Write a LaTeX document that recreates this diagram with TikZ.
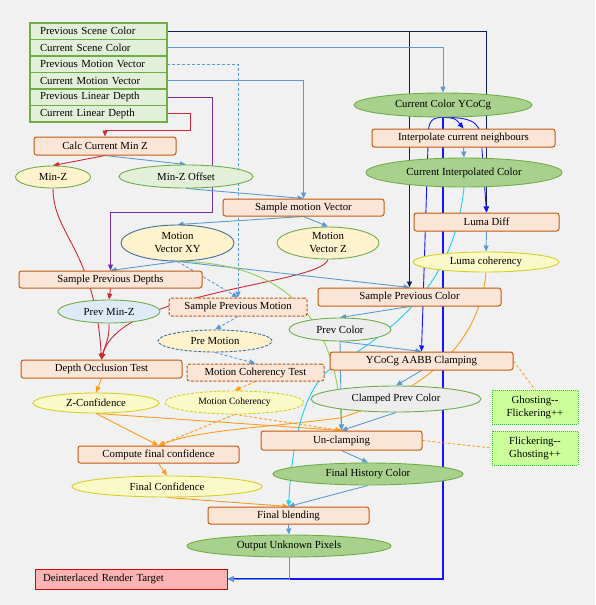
\documentclass[tikz,border=0pt]{standalone}
\usepackage{fontspec}
\setmainfont{Liberation Serif}
\usetikzlibrary{arrows.meta, positioning, shapes.geometric, backgrounds}
\definecolor{pagebg}{HTML}{F1F1F1}
\definecolor{tablefill}{HTML}{E2F0D9}
\definecolor{tableline}{HTML}{70AD47}
\definecolor{stagefill}{HTML}{FBE5D6}
\definecolor{stageline}{HTML}{C55A11}
\definecolor{ellgreen}{HTML}{A9D18E}
\definecolor{ellmint}{HTML}{E2F0D9}
\definecolor{ellpale}{HTML}{FFF2CC}
\definecolor{ellblue}{HTML}{DEEBF7}
\definecolor{ellgrey}{HTML}{EDEDED}
\definecolor{datumline}{HTML}{70AD47}
\definecolor{datumblue}{HTML}{41719C}
\definecolor{scorefill}{HTML}{FAFAC8}
\definecolor{scoreline}{HTML}{D6CF2A}
\definecolor{notefill}{HTML}{CCFF99}
\definecolor{notegreen}{HTML}{33CC33}
\definecolor{targetfill}{HTML}{FAB4B4}
\definecolor{targetred}{HTML}{D90000}
\definecolor{lblue}{HTML}{5B9BD5}
\definecolor{navyline}{HTML}{0B1F5C}
\definecolor{vblue}{HTML}{1414FF}
\definecolor{redline}{HTML}{CC2A36}
\definecolor{purpline}{HTML}{7030A0}
\definecolor{orng}{HTML}{FF9C1A}
\definecolor{cyanline}{HTML}{1BD0F0}
\definecolor{greenline}{HTML}{92D050}

\begin{document}
\begin{tikzpicture}[x=1pt, y=-1pt,
    font=\fontsize{10.8}{13}\selectfont,
    inrow/.style={rectangle, draw=tableline, fill=tablefill, line width=1.2pt,
                  text width=117pt, inner xsep=10pt, inner ysep=0pt,
                  minimum height=16.5pt, outer sep=0pt, align=left},
    stage/.style={rectangle, rounded corners=2.5pt, draw=stageline,
                  fill=stagefill, line width=1pt, inner sep=0pt,
                  minimum height=18pt},
    maybestage/.style={stage, dash pattern=on 3pt off 1.5pt},
    datum/.style={ellipse, draw=datumline, line width=0.9pt, inner sep=0pt,
                  align=center},
    score/.style={datum, draw=scoreline, fill=scorefill},
    note/.style={rectangle, draw=notegreen, fill=notefill, densely dotted,
                 line width=1pt, minimum width=86pt, minimum height=34pt,
                 inner sep=0pt, align=center},
    target/.style={rectangle, draw=targetred, fill=targetfill, line width=1pt,
                   text width=176pt, inner xsep=8pt, inner ysep=0pt,
                   minimum height=20pt, align=left},
    arr/.style={-{Triangle[length=6pt, width=5pt]}, line width=0.9pt},
    darr/.style={arr, dash pattern=on 3pt off 2pt},
    dline/.style={line width=0.8pt, dash pattern=on 3pt off 2pt}
  ]
  \useasboundingbox (0,0) rectangle (595,605);

  % input buffers
  \node[inrow] (psc) at (98.5,31.25) {Previous Scene Color};
  \node[inrow, below=0pt of psc] (csc) {Current Scene Color};
  \node[inrow, below=0pt of csc] (pmv) {Previous Motion Vector};
  \node[inrow, below=0pt of pmv] (cmv) {Current Motion Vector};
  \node[inrow, below=0pt of cmv] (pld) {Previous Linear Depth};
  \node[inrow, below=0pt of pld] (cld) {Current Linear Depth};
  \coordinate (pldbend) at (212,212);
  \coordinate (cldbend) at (190,130);

  % passes
  \node[stage, minimum width=142pt] (ccmz) at (105,146) {Calc Current Min Z};
  \node[stage, minimum width=183pt] (icn) at (463.5,138) {Interpolate current neighbours};
  \node[stage, minimum width=161pt, minimum height=17pt] (smv) at (303.5,207.5) {Sample motion Vector};
  \node[stage, minimum width=145pt] (lumadiff) at (486.5,222) {Luma Diff};
  \node[stage, minimum width=183pt, minimum height=17pt] (spd) at (110.5,279.5) {Sample Previous Depths};
  \node[stage, minimum width=183pt] (spc) at (409.5,297) {Sample Previous Color};
  \node[maybestage, minimum width=138pt] (spm) at (238,307) {Sample Previous Motion};
  \node[stage, minimum width=161pt] (dot) at (101.5,369) {Depth Occlusion Test};
  \node[maybestage, minimum width=137pt, minimum height=17pt] (mct) at (255.5,372.5) {Motion Coherency Test};
  \node[stage, minimum width=183pt] (aabb) at (421.5,361) {YCoCg AABB Clamping};
  \node[stage, minimum width=161pt, minimum height=19pt] (uncl) at (341.5,440.5) {Un-clamping};
  \node[stage, minimum width=161pt, minimum height=17pt] (cfc) at (158.5,454.5) {Compute final confidence};
  \node[stage, minimum width=161pt, minimum height=17pt] (fblend) at (288.5,515.5) {Final blending};

  % intermediate data
  \node[datum, fill=ellgreen, minimum width=178pt, minimum height=24pt] (ccy) at (443,105) {Current Color YCoCg};
  \node[datum, fill=ellgreen, minimum width=196pt, minimum height=29pt] (cic) at (464,172.5) {Current Interpolated Color};
  \node[datum, fill=ellpale, minimum width=75pt, minimum height=22pt] (minz) at (53,177) {Min-Z};
  \node[datum, fill=ellmint, minimum width=134pt, minimum height=23pt] (minzoff) at (186,176.5) {Min-Z Offset};
  \node[datum, fill=ellpale, draw=datumblue, minimum width=113pt, minimum height=36pt] (mvxy) at (177.5,243) {Motion\\Vector XY};
  \node[datum, fill=ellpale, minimum width=102pt, minimum height=32pt] (mvz) at (328,243) {Motion\\Vector Z};
  \node[score, minimum width=146pt, minimum height=20pt] (lumacoh) at (486,262) {Luma coherency};
  \node[datum, fill=ellblue, minimum width=102pt, minimum height=23pt] (pminz) at (109,311.5) {Prev Min-Z};
  \node[datum, fill=ellgrey, minimum width=102pt, minimum height=23pt] (pcol) at (340,329.5) {Prev Color};
  \node[datum, fill=ellpale, draw=datumblue, dash pattern=on 3pt off 1.5pt, minimum width=114pt, minimum height=22pt] (premo) at (215,341) {Pre Motion};
  \node[score, minimum width=126pt, minimum height=20pt] (zconf) at (96,403) {Z-Confidence};
  \node[score, dash pattern=on 3pt off 1.5pt, font=\fontsize{9.6}{11}\selectfont, minimum width=139pt, minimum height=23pt] (mcoh) at (234.5,402.5) {Motion Coherency};
  \node[datum, fill=ellgrey, minimum width=170pt, minimum height=26pt] (cpc) at (396,399) {Clamped Prev Color};
  \node[datum, fill=ellgreen, minimum width=190pt, minimum height=22pt] (fhc) at (368,474) {Final History Color};
  \node[score, minimum width=190pt, minimum height=21pt] (fconf) at (167,486.5) {Final Confidence};
  \node[datum, fill=ellgreen, minimum width=204pt, minimum height=22pt] (oup) at (289,546) {Output Unknown Pixels};

  % trade-off notes and output
  \node[note] (ghost1) at (535,407) {Ghosting-{}-\\Flickering++};
  \node[note] (ghost2) at (535,448) {Flickering-{}-\\Ghosting++};
  \node[target] (drt) at (131,579) {Deinterlaced Render Target};

  \begin{scope}[on background layer]
    \fill[pagebg] (0,0) rectangle (595,605);
    % from the inputs
    \draw[arr, navyline] (psc.east) -| (spc.north);
    \draw[arr, navyline] (psc.east) -| (lumadiff.north);
    \draw[arr, lblue] (csc.east) -| (ccy.north);
    \draw[darr, lblue] (pmv.east) -| (spm.north);
    \draw[arr, lblue] (cmv.east) -| (smv.north);
    \draw[arr, purpline] (pld.east) -| (pldbend) -| (spd.north);
    \draw[arr, redline] (cld.east) -| (cldbend) -| (ccmz.north);
    % depth and motion
    \draw[arr, redline] (ccmz.south) -- (minz.north);
    \draw[arr, lblue] (ccmz.south) -- (minzoff.north);
    \draw[arr, lblue] (minzoff.south) -- (smv.north);
    \draw[arr, lblue] (smv.south) -- (mvxy.north);
    \draw[arr, lblue] (smv.south) -- (mvz.north);
    \draw[arr, redline] (minz.south) .. controls (53,235) and (95,250) .. (dot.north);
    \draw[arr, redline] (mvz.south) .. controls (320,285) and (120,290) .. (dot.north);
    \draw[arr, redline] (spd.south) -- (pminz.north);
    \draw[arr, redline] (pminz.south) .. controls (110,338) and (104,348) .. (dot.north);
    \draw[arr, lblue] (mvxy.south) -- (spd.north);
    \draw[darr, lblue] (mvxy.south) -- (spm.north);
    \draw[arr, lblue] (mvxy.south) -- (spc.north);
    \draw[arr, greenline] (mvxy.south) .. controls (295,262) and (338,330) .. (uncl.north);
    \draw[darr, lblue] (spm.south) -- (premo.north);
    \draw[darr, lblue] (premo.south) -- (mct.north);
    \draw[darr, orng] (mct.south) -- (mcoh.north);
    % confidence
    \draw[arr, orng] (dot.south) -- (zconf.north);
    \draw[arr, orng] (zconf.south) -- (cfc.north);
    \draw[arr, orng] (zconf.south) -- (uncl.north);
    \draw[darr, orng] (mcoh.south) -- (cfc.north);
    \draw[darr, orng] (mcoh.south) -- (uncl.north);
    \draw[arr, orng] (cfc.south) -- (fconf.north);
    \draw[arr, orng] (fconf.south) -- (fblend.north);
    % colour
    \draw[arr, vblue] (ccy.south) .. controls (455,118) .. (icn.north);
    \draw[arr, lblue] (icn.south) -- (cic.north);
    \draw[arr, vblue] (ccy.south) .. controls (428,117) and (428,125) .. (428,145) -- (aabb.north);
    \draw[arr, vblue] (ccy.south) .. controls (478,117) and (482,125) .. (482,150) -- (lumadiff.north);
    \draw[arr, vblue, line width=1.2pt] (ccy.south) |- (drt.east);
    \draw[arr, lblue] (lumadiff.south) -- (lumacoh.north);
    \draw[arr, orng] (lumacoh.south) .. controls (480,340) and (430,390) .. (340,418)
      .. controls (260,428) and (200,430) .. (cfc.north);
    \draw[arr, cyanline] (cic.south) .. controls (455,274) and (408,323) .. (333,367)
      .. controls (305,385) and (292,440) .. (fblend.north);
    \draw[arr, lblue] (spc.south) -- (pcol.north);
    \draw[arr, lblue] (pcol.south) -- (aabb.north);
    \draw[arr, lblue] (pcol.south) -- (uncl.north);
    \draw[arr, lblue] (aabb.south) -- (cpc.north);
    \draw[arr, lblue] (cpc.south) -- (uncl.north);
    \draw[dline, orng] (aabb.east) -- (ghost1.north);
    \draw[dline, orng] (uncl.east) -- (ghost2.west);
    \draw[arr, lblue] (uncl.south) -- (fhc.north);
    \draw[arr, lblue] (fhc.south) -- (fblend.north);
    \draw[arr, lblue] (fblend.south) -- (oup.north);
    \draw[arr, lblue] (oup.south) |- (drt.east);
  \end{scope}
\end{tikzpicture}
\end{document}
